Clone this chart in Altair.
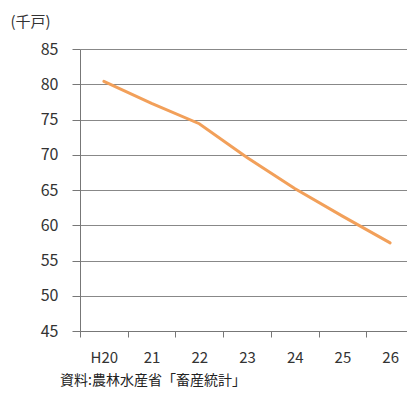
import altair as alt
import pandas as pd

years = ["H20", "21", "22", "23", "24", "25", "26"]
values = [80.4, 77.3, 74.4, 69.6, 65.2, 61.3, 57.5]
y_ticks = [45, 50, 55, 60, 65, 70, 75, 80, 85]
y_unit = "(千戸)"
source = "資料:農林水産省「畜産統計」"

df = pd.DataFrame({"year": years, "value": values})

FONT = "Noto Sans CJK JP"

line = alt.Chart(df).mark_line(color="#F2A05A", strokeWidth=3, strokeCap="round").encode(
    x=alt.X("year:N", sort=years, scale=alt.Scale(paddingInner=0, paddingOuter=0),
            axis=alt.Axis(title=None, labelAngle=0, labelFontSize=15, labelColor="#333333",
                          labelFont=FONT, labelPadding=13, tickBand="extent", tickSize=6,
                          tickColor="#777777", domainColor="#777777", grid=False)),
    y=alt.Y("value:Q", scale=alt.Scale(domain=[45, 85], nice=False, zero=False),
            axis=alt.Axis(values=y_ticks, title=y_unit, titleAngle=0, titleAlign="left",
                          titleBaseline="middle", titleX=-70, titleY=-28, titleFontSize=15,
                          titleFont=FONT, titleFontWeight="normal", titleColor="#333333",
                          labelFontSize=16, labelFont=FONT, labelColor="#333333", labelPadding=14,
                          tickSize=8, tickColor="#777777", domainColor="#777777",
                          gridColor="#888888", gridWidth=1)),
)

chart = line.properties(
    width=334, height=282,
    title=alt.TitleParams(source, orient="bottom", anchor="start", frame="group", fontSize=14,
                          font=FONT, fontWeight="normal", color="#222222", dx=-20, offset=9),
    autosize=alt.AutoSizeParams(type="none"),
    padding={"left": 72, "top": 41, "right": -7, "bottom": 70},
).configure_view(stroke=None)

chart.save("out.html", embed_options={"renderer": "svg", "actions": False})
